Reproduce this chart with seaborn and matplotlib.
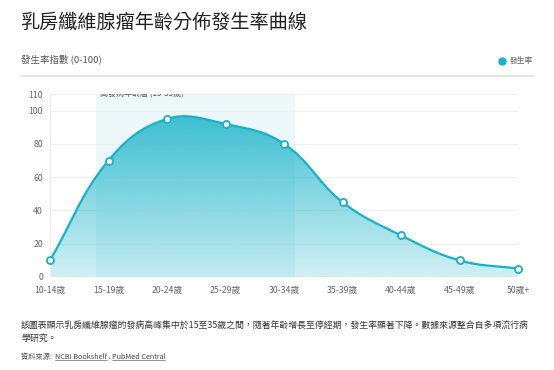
import numpy as np
import matplotlib
matplotlib.use("Agg")
import matplotlib.pyplot as plt
import seaborn as sns
from matplotlib.colors import to_rgb
from matplotlib.patches import Polygon
from matplotlib.lines import Line2D

# ---- data ----
categories = ["10-14歲", "15-19歲", "20-24歲", "25-29歲", "30-34歲",
              "35-39歲", "40-44歲", "45-49歲", "50歲+"]
incidence = [10, 70, 95, 92, 80, 45, 25, 10, 5]
y_ticks = [0, 20, 40, 60, 80, 100, 110]
band_start, band_end = 0.79, 4.19
band_label = "高發病年齡層 (15-35歲)"
title = "乳房纖維腺瘤年齡分佈發生率曲線"
subtitle = "發生率指數 (0-100)"
legend_label = "發生率"
footer_lines = ["該圖表顯示乳房纖維腺瘤的發病高峰集中於15至35歲之間，隨著年齡增長至停經期，發生率顯著下降。數據來源整合自多項流行病",
                "學研究。"]
source_prefix = "資料來源: "
source_links = ["NCBI Bookshelf", "PubMed Central"]

sns.set_theme(style="white")
plt.rcParams['font.family'] = ['Noto Sans CJK TC', 'DejaVu Sans']

W, H = 554, 370
C = "#17b2c8"
fig = plt.figure(figsize=(W / 100, H / 100), dpi=100)
ax = fig.add_axes([50 / W, (H - 277) / H, 468 / W, (277 - 94) / H])

xs = np.arange(len(categories))
ax.set_xlim(0, len(categories) - 1)
ax.set_ylim(0, 110)

# Chart.js-like bezier spline (tension 0.4), computed in pixel space
sx = 468 / (len(categories) - 1)
sy = 183 / 110


def spline(xv, yv, t=0.4, n=30):
    px = np.asarray(xv, float) * sx
    py = np.asarray(yv, float) * sy
    N = len(px)
    cprev, cnext = [], []
    for i in range(N):
        a = i - 1 if i > 0 else i
        b = i + 1 if i < N - 1 else i
        d01 = np.hypot(px[i] - px[a], py[i] - py[a])
        d12 = np.hypot(px[b] - px[i], py[b] - py[i])
        s01 = d01 / (d01 + d12)
        s12 = d12 / (d01 + d12)
        fa, fb = t * s01, t * s12
        cprev.append((px[i] - fa * (px[b] - px[a]), py[i] - fa * (py[b] - py[a])))
        cnext.append((px[i] + fb * (px[b] - px[a]), py[i] + fb * (py[b] - py[a])))
    ox, oy = [], []
    tt = np.linspace(0, 1, n)
    for i in range(N - 1):
        p0 = np.array([px[i], py[i]])
        p1 = np.array(cnext[i])
        p2 = np.array(cprev[i + 1])
        p3 = np.array([px[i + 1], py[i + 1]])
        seg = ((1 - tt)[:, None] ** 3 * p0 + 3 * ((1 - tt) ** 2 * tt)[:, None] * p1
               + 3 * ((1 - tt) * tt ** 2)[:, None] * p2 + (tt ** 3)[:, None] * p3)
        if i > 0:
            seg = seg[1:]
        ox.extend(seg[:, 0])
        oy.extend(seg[:, 1])
    return np.array(ox) / sx, np.array(oy) / sy


cx, cy = spline(xs, incidence)

# highlighted band
ax.axvspan(band_start, band_end, color="#edf8fb", zorder=0.5, lw=0)
ax.text(0.855, 110.2, band_label, fontsize=5.8, style="italic", color="#555555",
        ha="left", va="center", clip_on=True, zorder=1)

# gradient fill
r, g, b = to_rgb(C)
alpha = np.linspace(0.2, 0.9, 256)
img = np.zeros((256, 1, 4))
img[:, 0, 0], img[:, 0, 1], img[:, 0, 2] = r, g, b
img[:, 0, 3] = alpha
verts = np.array(list(zip(cx, cy)) + [(cx[-1], 0), (cx[0], 0)])
poly = Polygon(verts, closed=True, facecolor="none", edgecolor="none",
               transform=ax.transData)
ax.add_patch(poly)
im = ax.imshow(img, extent=[0, len(categories) - 1, 0, 110], origin="lower",
               aspect="auto", zorder=2, interpolation="bilinear")
im.set_clip_path(poly)

# line and points
sns.lineplot(x=cx, y=cy, ax=ax, color=C, lw=1.6, zorder=3, sort=False)
sns.scatterplot(x=xs, y=incidence, ax=ax, s=26, color="white", edgecolor=C,
                linewidth=1.3, zorder=4, clip_on=False)

ax.set_xticks(xs)
ax.set_xticklabels(categories)
ax.set_yticks(y_ticks)
ax.tick_params(axis="both", length=0, labelsize=6.3, labelcolor="#666666")
ax.tick_params(axis="y", pad=5)
ax.tick_params(axis="x", pad=6.5)
ax.yaxis.grid(True, color="#f0f0f0", lw=0.9)
ax.set_axisbelow(True)
for s in ["top", "right", "bottom"]:
    ax.spines[s].set_visible(False)
ax.spines["left"].set_color("#eeeeee")
ax.spines["left"].set_linewidth(0.9)
ax.set_xlabel("")
ax.set_ylabel("")

# header
fig.text(20 / W, 1 - 22 / H, title, fontsize=13.8, color="#222222", va="center", ha="left")
fig.text(21 / W, 1 - 60.5 / H, subtitle, fontsize=6.8, color="#555555", va="center", ha="left")
fig.add_artist(Line2D([502 / W], [1 - 60.5 / H], marker="o", ms=5, color=C,
                      transform=fig.transFigure, lw=0))
fig.text(510 / W, 1 - 60.5 / H, legend_label, fontsize=5.6, color="#666666", va="center", ha="left")
fig.add_artist(Line2D([21 / W, 534 / W], [1 - 75.5 / H] * 2, color="#e6e6e6", lw=1.5,
                      transform=fig.transFigure))

# footer
fig.text(21 / W, 1 - 326 / H, footer_lines[0], fontsize=6.4, color="#333333", va="center", ha="left")
fig.text(21 / W, 1 - 338.5 / H, footer_lines[1], fontsize=6.4, color="#333333", va="center", ha="left")

fig.canvas.draw()
renderer = fig.canvas.get_renderer()
y_src = 1 - 357 / H
t0 = fig.text(21 / W, y_src, source_prefix, fontsize=5.2, color="#555555", va="center", ha="left")
fig.canvas.draw()
x_px = t0.get_window_extent(renderer).x1 + 1.5
for i, lk in enumerate(source_links):
    t = fig.text(x_px / W, y_src, lk, fontsize=5.2, color="#444444", va="center", ha="left")
    fig.canvas.draw()
    bb = t.get_window_extent(renderer)
    fig.add_artist(Line2D([bb.x0 / W, bb.x1 / W], [(bb.y0 + 0.8) / H] * 2, color="#666666",
                          lw=0.5, transform=fig.transFigure))
    x_px = bb.x1
    if i < len(source_links) - 1:
        c = fig.text(x_px / W, y_src, ",", fontsize=5.2, color="#555555", va="center", ha="left")
        fig.canvas.draw()
        x_px = c.get_window_extent(renderer).x1 + 2.5

fig.savefig("out.png", dpi=100)
